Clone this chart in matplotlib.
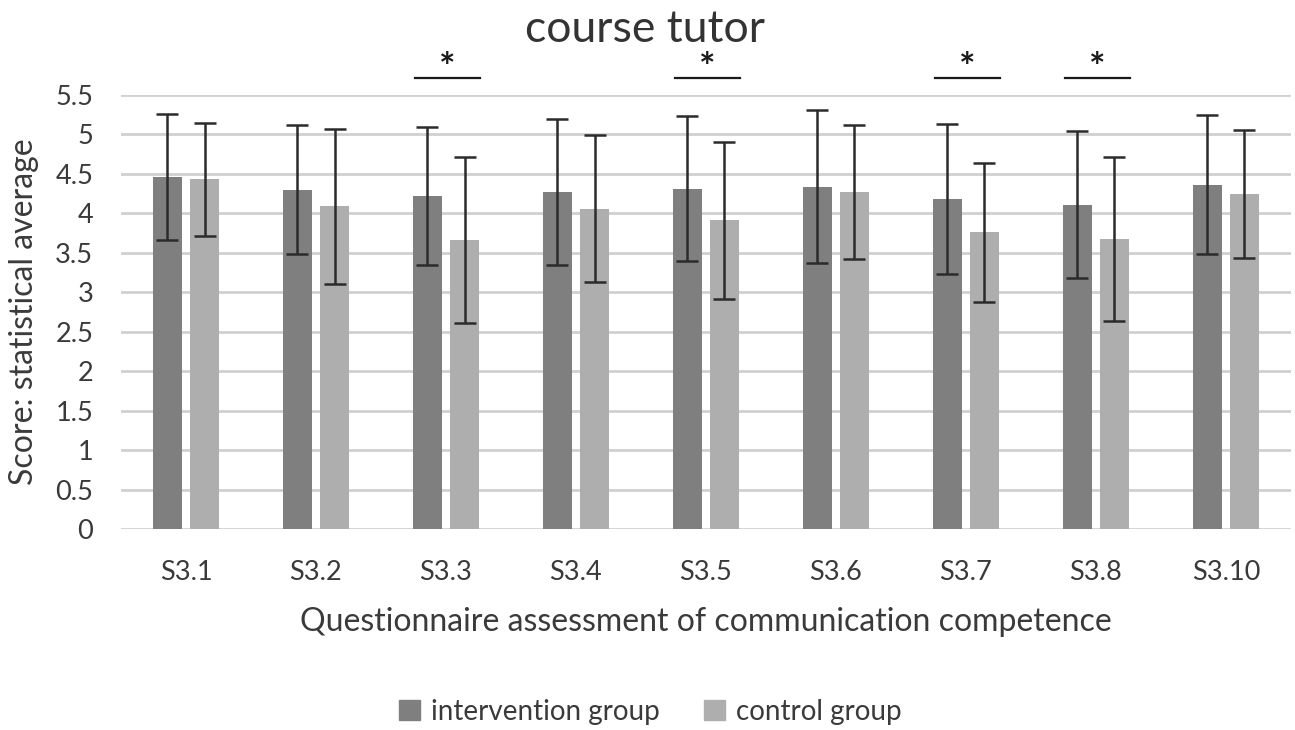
import numpy as np
import matplotlib.pyplot as plt
from matplotlib.patches import Patch

# Questionnaire items and group means / standard deviations
items = ["S3.1", "S3.2", "S3.3", "S3.4", "S3.5", "S3.6", "S3.7", "S3.8", "S3.10"]
intervention_mean = [4.46, 4.30, 4.22, 4.27, 4.31, 4.34, 4.18, 4.11, 4.36]
intervention_sd = [0.80, 0.82, 0.87, 0.92, 0.92, 0.97, 0.95, 0.93, 0.88]
control_mean = [4.43, 4.09, 3.66, 4.06, 3.91, 4.27, 3.76, 3.68, 4.24]
control_sd = [0.72, 0.98, 1.05, 0.93, 0.99, 0.85, 0.88, 1.04, 0.81]
# items with a significant difference between groups
significant = ["S3.3", "S3.5", "S3.7", "S3.8"]

plt.rcParams['font.family'] = ['Lato', 'DejaVu Sans']
text_col = '#3a3a3a'
dark = '#7f7f7f'
light = '#aeaeae'

fig = plt.figure(figsize=(12.95, 7.3), dpi=100)
ax = fig.add_axes([0.0934, 0.2753, 0.9034, 0.5946])

x = np.arange(len(items))
w = 0.225
off = 0.143
err_kw = dict(ecolor='#2b2b2b', elinewidth=1.8, capsize=8, capthick=1.8)

ax.bar(x - off, intervention_mean, w, color=dark, yerr=intervention_sd,
       error_kw=err_kw, zorder=3, label='intervention group')
ax.bar(x + off, control_mean, w, color=light, yerr=control_sd,
       error_kw=err_kw, zorder=3, label='control group')

# significance markers above the plot
for name in significant:
    i = items.index(name)
    ax.plot([i - 0.24, i + 0.26], [5.71, 5.71], color='#1a1a1a', lw=1.6,
            clip_on=False, zorder=4)
    ax.text(i + 0.01, 5.84, '*', ha='center', va='center', fontsize=28,
            fontweight='bold', color='#1a1a1a', clip_on=False)

ax.set_xlim(-0.5, len(items) - 0.5)
ax.set_ylim(0, 5.5)
ax.set_yticks(np.arange(0, 5.51, 0.5))
ax.set_yticklabels(['0', '0.5', '1', '1.5', '2', '2.5', '3', '3.5', '4', '4.5', '5', '5.5'])
ax.set_xticks(x)
ax.set_xticklabels(items)
ax.tick_params(axis='both', length=0, labelsize=19.5, colors=text_col)
ax.tick_params(axis='x', pad=22)
ax.tick_params(axis='y', pad=20)
ax.yaxis.grid(True, color='#d0d0d0', lw=2, zorder=0)
for s in ax.spines.values():
    s.set_visible(False)

ax.set_ylabel('Score: statistical average', fontsize=23, color=text_col, labelpad=12)
ax.set_xlabel('Questionnaire assessment of communication competence', fontsize=23,
              color=text_col, labelpad=16)
fig.text(0.498, 0.960, 'course tutor', ha='center', va='center', fontsize=32,
         color='#333333')

handles = [Patch(color=dark, label='intervention group'),
           Patch(color=light, label='control group')]
fig.legend(handles=handles, loc='center', bbox_to_anchor=(0.502, 0.025), ncol=2,
           frameon=False, fontsize=20, labelcolor=text_col, handlelength=0.75,
           handleheight=0.75, handletextpad=0.4, columnspacing=1.6)

fig.savefig('out.png', dpi=100)
